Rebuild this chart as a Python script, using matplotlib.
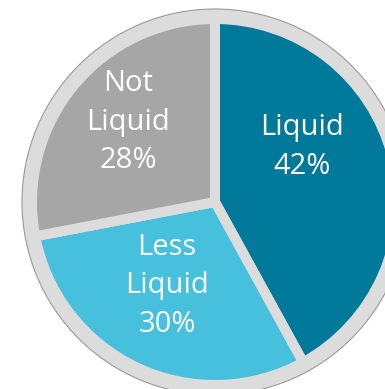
import matplotlib
matplotlib.use("Agg")
import matplotlib.pyplot as plt
from matplotlib.patches import Circle

categories = ["Liquid", "Less\nLiquid", "Not\nLiquid"]
shares = [42, 30, 28]
colors = ["#00799b", "#46c0dc", "#a6a6a6"]

W, H = 385, 389
fig = plt.figure(figsize=(W / 100, H / 100), dpi=100)
ax = fig.add_axes([0, 0, 1, 1])

cx, cy = 215, 187
R_outer = 193
gap_color = "#dcdcdc"

# light grey backing disk forming the outer rim
ax.add_patch(Circle((cx, cy), R_outer, facecolor=gap_color,
                    edgecolor="#9a9a9a", linewidth=0.8, zorder=1))

wedges, _ = ax.pie(
    shares, startangle=90, counterclock=False,
    center=(cx, cy), radius=183, colors=colors,
    wedgeprops=dict(edgecolor=gap_color, linewidth=7.2),
    frame=True,
)
for w in wedges:
    w.set_zorder(2)
ax.set_xlim(0, W)
ax.set_ylim(0, H)
ax.set_aspect("equal")
ax.axis("off")

label_pos = [(302, H - 147), (167, H - 286), (128, H - 122)]
for cat, val, (x, y) in zip(categories, shares, label_pos):
    ax.text(x, y, f"{cat}\n{val}%", ha="center", va="center",
            color="white", fontsize=21, family="Open Sans",
            linespacing=1.45, zorder=3)

fig.savefig("out.png", dpi=100)
